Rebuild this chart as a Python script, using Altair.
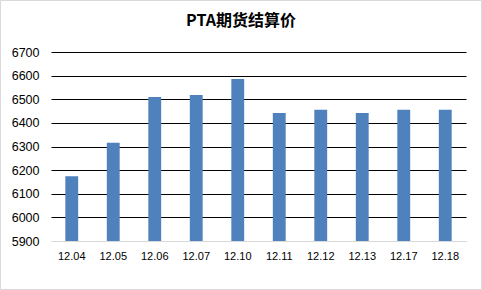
import altair as alt
import pandas as pd

title_text = "PTA期货结算价"
dates = ["12.04", "12.05", "12.06", "12.07", "12.10", "12.11", "12.12", "12.13", "12.17", "12.18"]
prices = [6174, 6316, 6510, 6518, 6586, 6442, 6456, 6442, 6456, 6456]
y_ticks = [5900, 6000, 6100, 6200, 6300, 6400, 6500, 6600, 6700]

df = pd.DataFrame({"date": dates, "price": prices})
one = pd.DataFrame({"t": [title_text]})

bars = alt.Chart(df).mark_bar(color="#4f81bd", clip=True).encode(
    x=alt.X("date:N", sort=dates, title=None,
            scale=alt.Scale(paddingInner=0.69, paddingOuter=0.345),
            axis=alt.Axis(labelAngle=0, labelFont="Liberation Sans", labelFontSize=11,
                          labelColor="#000000", ticks=False, domainColor="#d9d9d9",
                          labelPadding=9, grid=False)),
    y=alt.Y("price:Q", title=None,
            scale=alt.Scale(domain=[5900, 6700], nice=False, zero=False),
            axis=alt.Axis(values=y_ticks, format="d", domain=False, ticks=False,
                          labelFont="Liberation Sans", labelFontSize=12.5,
                          labelColor="#000000", labelPadding=12,
                          gridColor=alt.condition("datum.value == 5900", alt.value("#d9d9d9"), alt.value("#000000")),
                          gridWidth=1)),
)

frame = alt.Chart(one).mark_rect(fill=None, stroke="#d9d9d9", strokeWidth=1).encode(
    x=alt.value(-50.5), x2=alt.value(430.5), y=alt.value(-51.5), y2=alt.value(237.5)
)

title = alt.Chart(one).mark_text(font="Noto Sans CJK SC", fontSize=16, fontWeight="bold",
                                 color="#000000", baseline="middle", align="center").encode(
    text="t:N", x=alt.value(190), y=alt.value(-31)
)

chart = alt.layer(frame, bars, title).properties(
    width=415, height=189,
    padding={"left": 51, "top": 52, "right": 16, "bottom": 49},
    autosize=alt.AutoSizeParams(type="none"),
    background="white",
).configure_view(stroke=None)

chart.save("out.html", embed_options={"renderer": "svg", "actions": False})
